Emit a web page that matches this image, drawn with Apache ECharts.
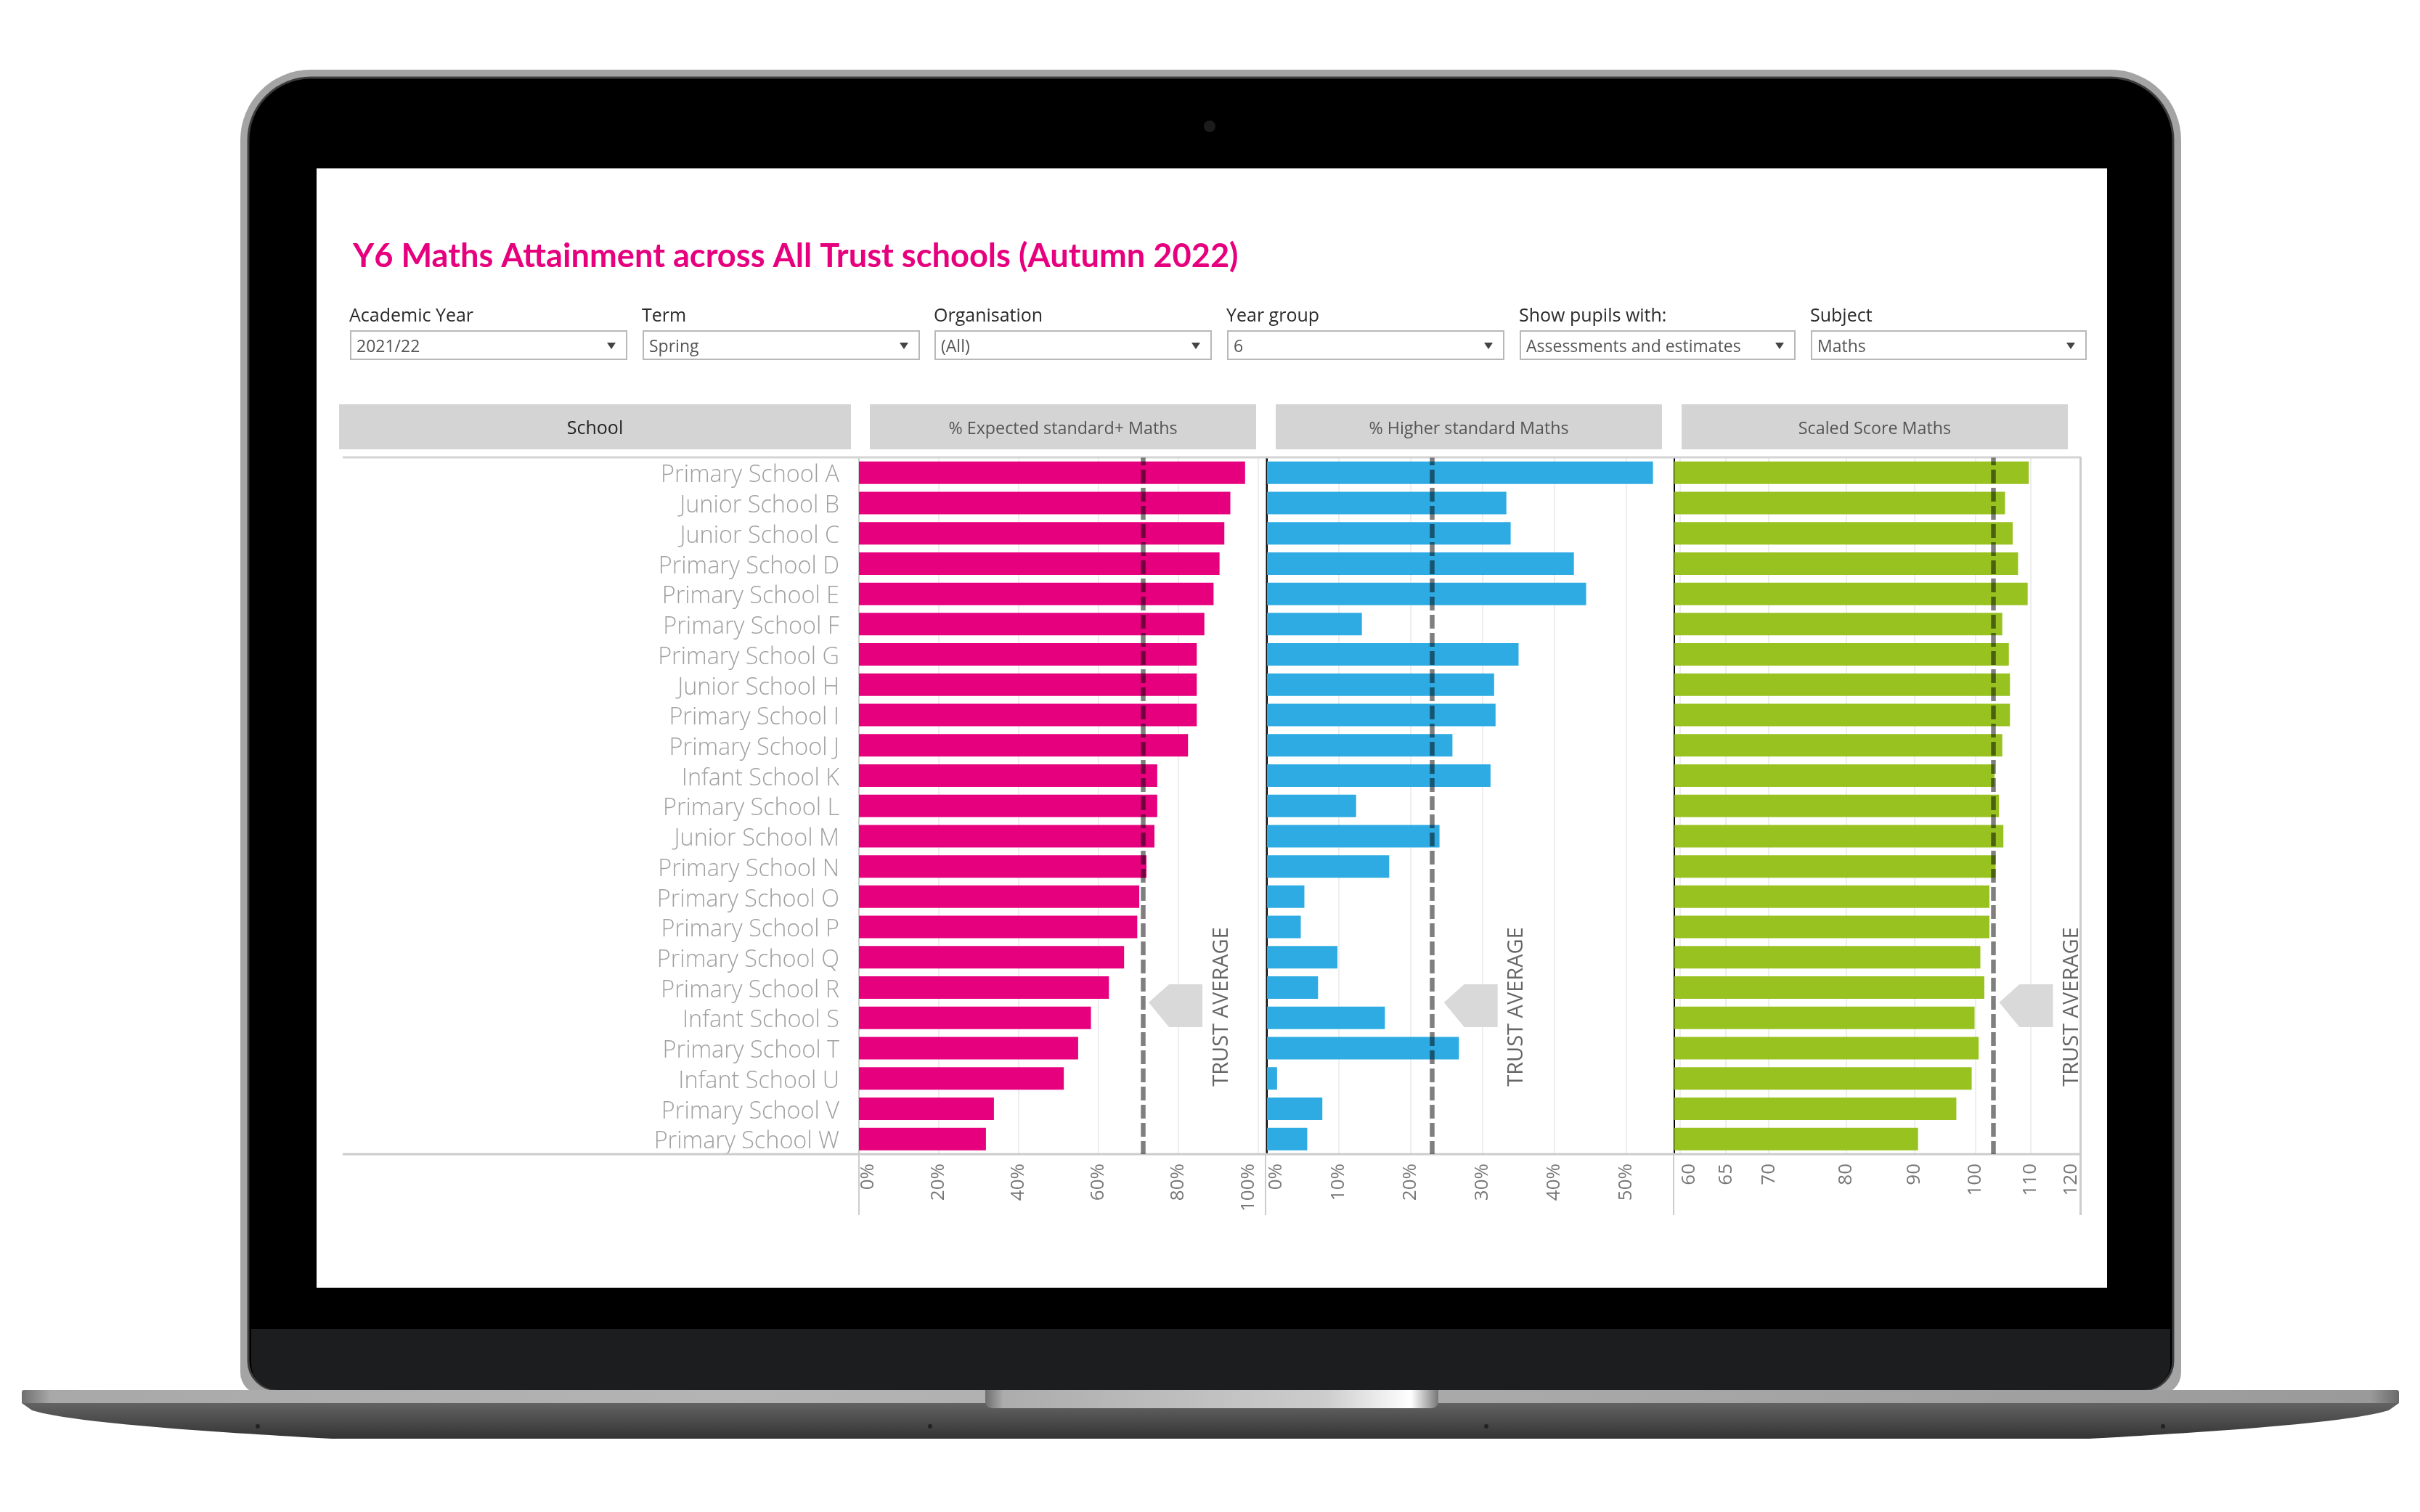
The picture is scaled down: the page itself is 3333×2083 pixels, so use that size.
<!DOCTYPE html>
<html>
<head>
<meta charset="utf-8">
<style>
  html, body { margin: 0; padding: 0; background: #fff; }
  #main { width: 3333px; height: 2083px; }
</style>
<script src="https://cdn.jsdelivr.net/npm/echarts@6/dist/echarts.min.js"></script>
</head>
<body>
<div id="main"></div>
<script>
var titleText = 'Y6 Maths Attainment across All Trust schools (Autumn 2022)';

var schools = ['Primary School A', 'Junior School B', 'Junior School C', 'Primary School D', 'Primary School E',
  'Primary School F', 'Primary School G', 'Junior School H', 'Primary School I', 'Primary School J', 'Infant School K',
  'Primary School L', 'Junior School M', 'Primary School N', 'Primary School O', 'Primary School P', 'Primary School Q',
  'Primary School R', 'Infant School S', 'Primary School T', 'Infant School U', 'Primary School V', 'Primary School W'];

var expectedPct = [96.7, 93, 91.5, 90.3, 88.8, 86.5, 84.6, 84.6, 84.6, 82.4, 74.7, 74.7, 74, 72, 70.2, 69.7, 66.4, 62.6, 58.1, 54.9, 51.3, 33.8, 31.8];
var higherPct = [53.7, 33.3, 33.9, 42.7, 44.4, 13.2, 35, 31.6, 31.8, 25.8, 31.1, 12.4, 24, 17, 5.2, 4.7, 9.8, 7.1, 16.4, 26.7, 1.4, 7.7, 5.6];
var scaledScore = [109.7, 105.3, 106.7, 107.7, 109.5, 104.8, 106, 106.2, 106.2, 104.8, 103.4, 104.2, 105, 103.6, 102.5, 102.5, 100.9, 101.6, 99.9, 100.6, 99.4, 96.8, 90.6];

var trustAverages = [71.1, 23, 103.2];
var expectedTicks = [0, 20, 40, 60, 80, 100];
var higherTicks = [0, 10, 20, 30, 40, 50];
var scoreTicks = [60, 65, 70, 80, 90, 100, 110, 120];

var filterLabels = ['Academic Year', 'Term', 'Organisation', 'Year group', 'Show pupils with:', 'Subject'];
var filterValues = ['2021/22', 'Spring', '(All)', '6', 'Assessments and estimates', 'Maths'];
var headerLabels = ['School', '% Expected standard+ Maths', '% Higher standard Maths', 'Scaled Score Maths'];

var FONT = '"Open Sans", sans-serif';
var PINK = '#e6007e';

var chart = echarts.init(document.getElementById('main'), null, { renderer: 'canvas' });

var gridTop = 630.4;
var gridH = 959.6;

function valueAxis(i, ticks, formatter, alignLast, extra) {
  var axis = {
    type: 'value',
    gridIndex: i,
    position: 'bottom',
    axisLine: { show: false },
    axisTick: { show: false, customValues: ticks },
    splitLine: { show: true, lineStyle: { color: '#eeeeee', width: 2 } },
    axisLabel: {
      customValues: ticks,
      formatter: formatter,
      rotate: 90,
      margin: 13,
      fontFamily: FONT,
      fontSize: 26,
      color: '#777777',
      verticalAlignMinLabel: 'top',
      verticalAlignMaxLabel: alignLast ? 'bottom' : 'middle'
    }
  };
  return Object.assign(axis, extra);
}

function catAxis(i, lineColor, showLabels) {
  return {
    type: 'category',
    gridIndex: i,
    data: schools,
    inverse: true,
    axisTick: { show: false },
    axisLine: { show: true, onZero: false, lineStyle: { color: lineColor, width: 2 } },
    axisLabel: {
      show: showLabels,
      interval: 0,
      margin: 27,
      verticalAlign: 'top',
      padding: [-12, 0, 0, 0],
      fontFamily: FONT,
      fontWeight: 300,
      fontSize: 32.4,
      color: '#a0a0a0'
    }
  };
}

function barSeries(i, values, color) {
  return {
    type: 'bar',
    xAxisIndex: i,
    yAxisIndex: i,
    data: values,
    barWidth: 31,
    itemStyle: { color: color },
    markLine: {
      silent: true,
      symbol: 'none',
      animation: false,
      z: 20,
      label: { show: false },
      lineStyle: { color: 'rgba(0,0,0,0.5)', width: 6.5, type: [19, 6], dashOffset: 8.3 },
      data: [{ xAxis: trustAverages[i] }]
    }
  };
}

var option = {
  animation: false,
  backgroundColor: '#ffffff',
  title: {
    text: titleText,
    left: 481,
    top: 326,
    textStyle: { color: PINK, fontFamily: 'Lato, sans-serif', fontWeight: 700, fontSize: 45.2 }
  },
  grid: [
    { left: 1183, top: gridTop, width: 561, height: gridH },
    { left: 1745, top: gridTop, width: 561, height: gridH },
    { left: 2306, top: gridTop, width: 559.6, height: gridH }
  ],
  xAxis: [
    valueAxis(0, expectedTicks, '{value}%', true, { min: 0, max: 102 }),
    valueAxis(1, higherTicks, '{value}%', false, { min: 0, max: 56.67 }),
    valueAxis(2, scoreTicks, '{value}', true, { type: 'log', logBase: 10, min: 59.45, max: 120 })
  ],
  yAxis: [
    catAxis(0, '#cccccc', true),
    catAxis(1, '#000000', false),
    catAxis(2, '#000000', false)
  ],
  series: [
    barSeries(0, expectedPct, PINK),
    barSeries(1, higherPct, '#2dabe2'),
    barSeries(2, scaledScore, '#98c21f')
  ]
};

chart.setOption(option);

// underside of the laptop base, curved at both ends
var basePts = [];
for (var k = 0; k <= 30; k++) {
  var u = k / 30;
  basePts.push([30 + 427 * u, 1933 + 49 * Math.pow(u, 0.47)]);
}
for (k = 30; k >= 0; k--) {
  basePts.push([3334 - basePts[k][0], basePts[k][1]]);
}

// laptop body, drawn behind the charts
var frame = [
  { type: 'rect', z: -20, shape: { x: 331, y: 96, width: 2673, height: 1825, r: [97, 97, 30, 30] }, style: { fill: '#a4a4a4' } },
  { type: 'rect', z: -19, shape: { x: 342, y: 107, width: 2651, height: 1808, r: [86, 86, 40, 40] }, style: { fill: '#000000', stroke: '#3c3c3c', lineWidth: 3 } },
  { type: 'rect', z: -18, shape: { x: 346, y: 1831, width: 2643, height: 84, r: [0, 0, 36, 36] }, style: { fill: '#1c1d1f' } },
  { type: 'circle', z: -18, shape: { cx: 1666, cy: 174, r: 8 }, style: { fill: '#1c1c1c' } },
  { type: 'rect', z: -17, shape: { x: 436, y: 232, width: 2466, height: 1542 }, style: { fill: '#ffffff' } },
  { type: 'polygon', z: -16, shape: { points: basePts },
    style: { fill: new echarts.graphic.LinearGradient(0, 0, 0, 1, [{ offset: 0, color: '#636363' }, { offset: 1, color: '#333333' }]) } },
  { type: 'rect', z: -15, shape: { x: 30, y: 1915, width: 3274, height: 18, r: [3, 3, 0, 0] },
    style: { fill: new echarts.graphic.LinearGradient(0, 0, 1, 0, [
      { offset: 0, color: '#6f6f6f' }, { offset: 0.012, color: '#a8a8a8' }, { offset: 0.3, color: '#b4b4b4' },
      { offset: 0.7, color: '#a6a6a6' }, { offset: 0.988, color: '#9a9a9a' }, { offset: 1, color: '#6a6a6a' }]) } },
  { type: 'rect', z: -14, shape: { x: 1357, y: 1915, width: 624, height: 25, r: [0, 0, 9, 9] },
    style: { fill: new echarts.graphic.LinearGradient(0, 0, 1, 0, [
      { offset: 0, color: '#6e6e6e' }, { offset: 0.04, color: '#acacac' }, { offset: 0.75, color: '#cccccc' },
      { offset: 0.94, color: '#ffffff' }, { offset: 1, color: '#777777' }]) } }
];

[355, 1281, 2047, 2979].forEach(function (cx) {
  frame.push({ type: 'circle', z: -14, shape: { cx: cx, cy: 1965, r: 3 }, style: { fill: '#222222' } });
});

// filter row
var filterX = [483, 886, 1288, 1691, 2094, 2495];
var filterW = [380, 380, 380, 380, 378, 378];
filterLabels.forEach(function (label, i) {
  frame.push({ type: 'text', z: 5, style: { x: filterX[i] - 2, y: 436, text: label, fontFamily: FONT, fontSize: 25, fontWeight: 500, fill: '#2a2a2a', verticalAlign: 'middle' } });
  frame.push({ type: 'rect', z: 5, shape: { x: filterX[i], y: 456, width: filterW[i], height: 39 }, style: { fill: '#ffffff', stroke: '#b8b8b8', lineWidth: 2 } });
  frame.push({ type: 'text', z: 5, style: { x: filterX[i] + 8, y: 478, text: filterValues[i], fontFamily: FONT, fontSize: 23, fill: '#555555', verticalAlign: 'middle' } });
  var ax = filterX[i] + filterW[i] - 21;
  frame.push({ type: 'polygon', z: 5, shape: { points: [[ax - 6, 472], [ax + 6, 472], [ax, 481]] }, style: { fill: '#444444' } });
});

// column headers
var headerX = [467, 1198, 1757, 2316];
var headerW = [705, 532, 532, 532];
headerLabels.forEach(function (label, i) {
  frame.push({ type: 'rect', z: 5, shape: { x: headerX[i], y: 557, width: headerW[i], height: 62 }, style: { fill: '#d4d4d4' } });
  frame.push({ type: 'text', z: 6, style: { x: headerX[i] + headerW[i] / 2, y: 591, text: label, fontFamily: FONT,
    fontSize: i === 0 ? 25 : 23.3, fill: i === 0 ? '#222222' : '#555555', align: 'center', verticalAlign: 'middle' } });
});

// view borders
frame.push({ type: 'line', z: 1, shape: { x1: 472, y1: 630, x2: 2866, y2: 630 }, style: { stroke: '#d4d4d4', lineWidth: 3 } });
frame.push({ type: 'line', z: 1, shape: { x1: 472, y1: 1590, x2: 2866, y2: 1590 }, style: { stroke: '#cccccc', lineWidth: 3 } });
frame.push({ type: 'line', z: 1, shape: { x1: 2865.5, y1: 630, x2: 2865.5, y2: 1674 }, style: { stroke: '#cccccc', lineWidth: 3 } });
frame.push({ type: 'line', z: 1, shape: { x1: 1743, y1: 630, x2: 1743, y2: 1674 }, style: { stroke: '#cccccc', lineWidth: 2 } });
[1183, 2305].forEach(function (x) {
  frame.push({ type: 'line', z: 1, shape: { x1: x, y1: 1590, x2: x, y2: 1674 }, style: { stroke: '#cccccc', lineWidth: 2 } });
});

// trust average callouts, placed from the axis position of each average
var calloutGap = [8, 16, 8];
var calloutText = [109, 116, 108];
trustAverages.forEach(function (avg, i) {
  var x = chart.convertToPixel({ xAxisIndex: i }, avg) + calloutGap[i];
  var pts = [[x, 1381], [x + 28, 1356], [x + 74, 1356], [x + 74, 1415], [x + 28, 1415]];
  frame.push({ type: 'polygon', z: 6, shape: { points: pts }, style: { fill: '#d9d9d9' } });
  frame.push({ type: 'text', z: 6, x: x - calloutGap[i] + calloutText[i], y: 1387, rotation: Math.PI / 2, style: { x: 0, y: 0, text: 'TRUST AVERAGE', fontFamily: FONT,
    fontSize: 29, fill: '#666666', align: 'center', verticalAlign: 'middle' } });
});

chart.setOption({ graphic: { elements: frame } });
</script>
</body>
</html>
